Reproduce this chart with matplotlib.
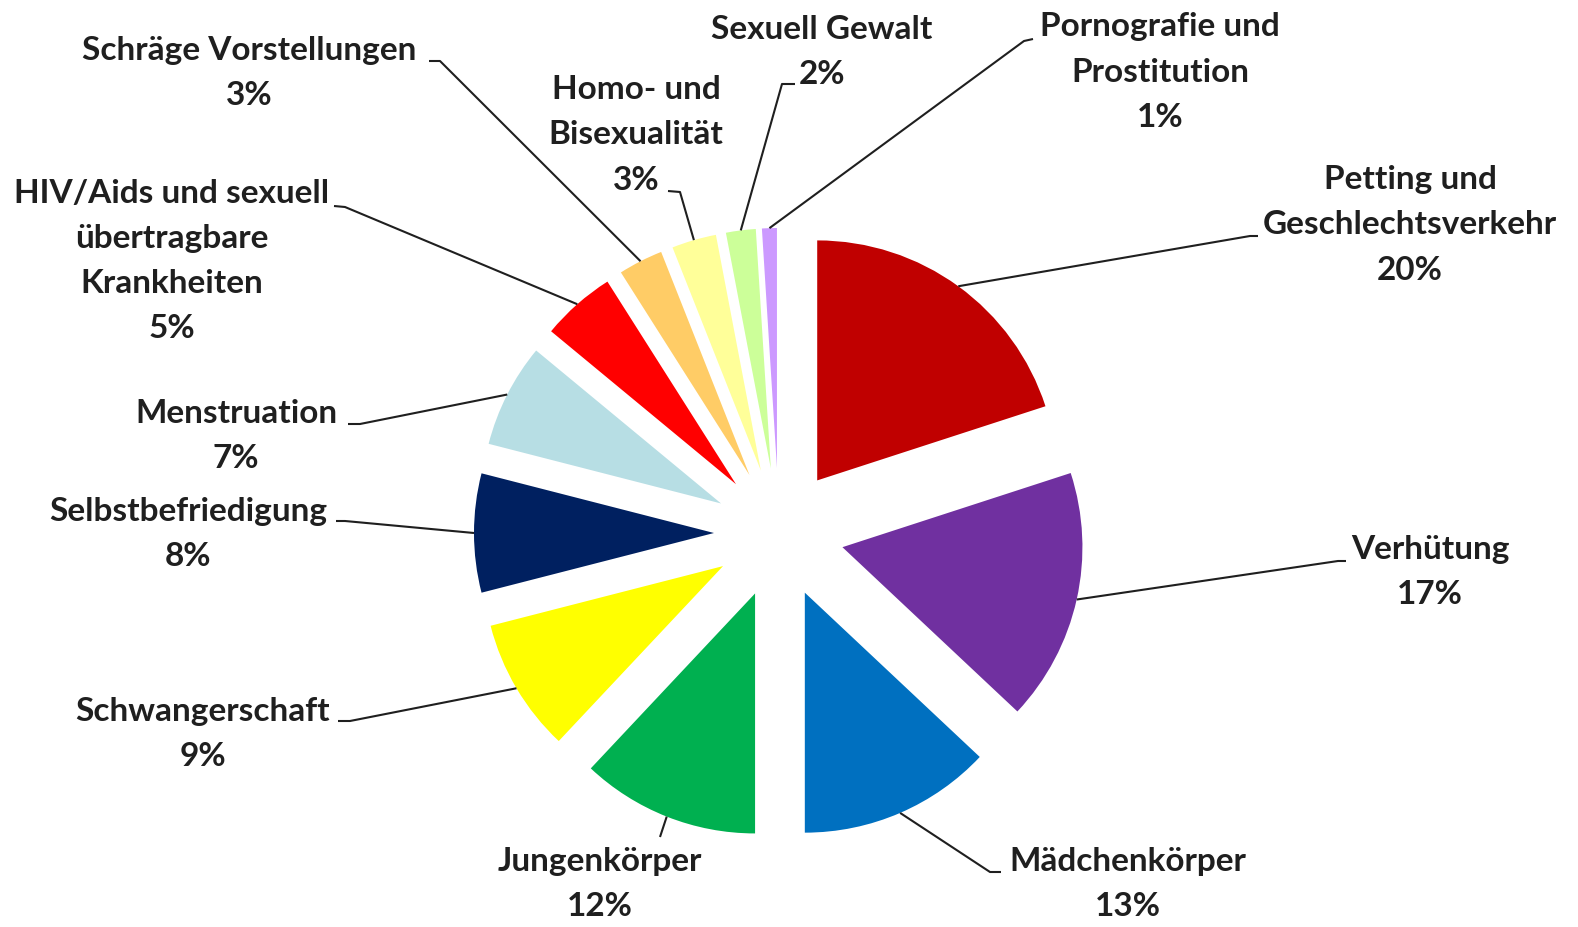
import numpy as np
import matplotlib
matplotlib.use("Agg")
from matplotlib import pyplot as plt

# Themen und Anteile (%), im Uhrzeigersinn ab 12 Uhr
categories = [
    "Petting und\nGeschlechtsverkehr",
    "Verhütung",
    "Mädchenkörper",
    "Jungenkörper",
    "Schwangerschaft",
    "Selbstbefriedigung",
    "Menstruation",
    "HIV/Aids und sexuell\nübertragbare\nKrankheiten",
    "Schräge Vorstellungen",
    "Homo- und\nBisexualität",
    "Sexuell Gewalt",
    "Pornografie und\nProstitution",
]
values = [20, 17, 13, 12, 9, 8, 7, 5, 3, 3, 2, 1]
colors = [
    "#C00000", "#7030A0", "#0070C0", "#00B050", "#FFFF00", "#002060",
    "#B7DEE4", "#FF0000", "#FFCC66", "#FFFF99", "#CCFF99", "#CC99FF",
]

W, H = 1578, 928

# label centre and leader end (image pixel coords, y down)
label_pos = [
    (1410, 225), (1430, 572), (1128, 884), (600, 884), (203, 734), (188, 534),
    (236, 436), (172, 261), (249, 73), (636, 135), (822, 52), (1160, 72),
]
leader_pts = [
    [(1250, 237), (1258, 237)],
    [(1338, 562), (1346, 562)],
    [(990, 873), (1001, 873)],
    [(660, 838), (660, 838)],
    [(350, 722), (338, 722)],
    [(345, 522), (336, 522)],
    [(360, 425), (348, 425)],
    [(345, 208), (334, 207)],
    [(440, 62), (429, 62)],
    [(680, 193), (668, 192)],
    [(782, 85), (795, 85)],
    [(1024, 42), (1033, 40)],
]

plt.rcParams["font.family"] = ["Lato", "DejaVu Sans"]

fig = plt.figure(figsize=(W / 100, H / 100), dpi=100)
ax = fig.add_axes([0, 0, 1, 1])

wedges, _ = ax.pie(
    values,
    colors=colors,
    startangle=90,
    counterclock=False,
    radius=240,
    center=(779, H - 534),
    explode=[65] * len(values),
    wedgeprops={"linewidth": 0},
)
ax.set_xlim(0, W)
ax.set_ylim(0, H)
ax.set_aspect("equal")
ax.axis("off")

for w, cat, val, pos, pts in zip(wedges, categories, values, label_pos, leader_pts):
    mid = np.deg2rad((w.theta1 + w.theta2) / 2)
    ax0 = w.center[0] + w.r * np.cos(mid)
    ay0 = w.center[1] + w.r * np.sin(mid)
    xs = [ax0] + [p[0] for p in pts]
    ys = [ay0] + [H - p[1] for p in pts]
    ax.plot(xs, ys, color="#1F1F1F", lw=1.5, solid_capstyle="butt")
    ax.text(
        pos[0], H - pos[1], f"{cat}\n{val}%",
        ha="center", va="center", fontsize=24, fontweight="bold",
        color="#1F1F1F", linespacing=1.68,
    )

fig.savefig("out.png", dpi=100)
